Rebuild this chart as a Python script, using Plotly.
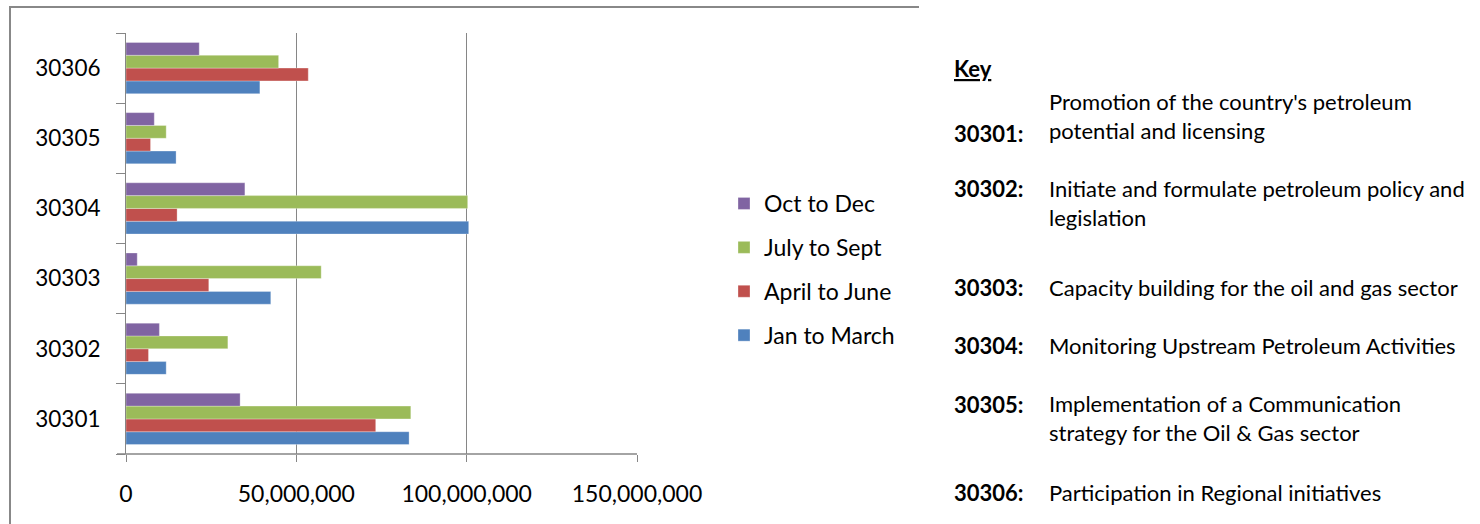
import plotly.graph_objects as go

categories = ["30301", "30302", "30303", "30304", "30305", "30306"]
series_names = ["Jan to March", "April to June", "July to Sept", "Oct to Dec"]
jan_to_march = [83.1e6, 11.8e6, 42.5e6, 100.6e6, 14.7e6, 39.3e6]
april_to_june = [73.3e6, 6.6e6, 24.3e6, 15.0e6, 7.2e6, 53.5e6]
july_to_sept = [83.6e6, 29.9e6, 57.3e6, 100.3e6, 11.8e6, 44.8e6]
oct_to_dec = [33.5e6, 9.8e6, 3.3e6, 34.9e6, 8.3e6, 21.5e6]
colors = ["#4F81BD", "#C0504D", "#9BBB59", "#8064A2"]
x_tickvals = [0, 50e6, 100e6, 150e6]
x_ticktext = ["0", "50,000,000", "100,000,000", "150,000,000"]

key_codes = ["30301:", "30302:", "30303:", "30304:", "30305:", "30306:"]
key_texts = [
    "Promotion of the country's petroleum<br>potential and licensing",
    "Initiate and formulate petroleum policy and<br>legislation",
    "Capacity building for the oil and gas sector",
    "Monitoring Upstream Petroleum Activities",
    "Implementation of a Communication<br>strategy for the Oil & Gas sector",
    "Participation in Regional initiatives",
]

FONT = "Lato"
W, H = 1480, 524
L, R, T, B = 126, 637, 33, 454

fig = go.Figure()
series_values = [jan_to_march, april_to_june, july_to_sept, oct_to_dec]
for i, (name, vals) in enumerate(zip(series_names, series_values)):
    fig.add_trace(go.Bar(
        y=categories, x=vals, name=name, orientation="h",
        marker=dict(color=colors[i], line=dict(color="rgba(255,255,255,0.6)", width=0.5)),
        legendgroup=name, legendrank=len(series_names) - i,
    ))

def px(x):
    return (x - L) / (R - L)

def py(y):
    return (B - y) / (B - T)

annotations = []
annotations.append(dict(xref="paper", yref="paper", x=px(952), y=py(68), xanchor="left", yanchor="middle",
                        text="<b><u>Key</u></b>", showarrow=False, font=dict(family=FONT, size=22, color="#000")))
code_y = [133, 188, 287, 345, 404, 492]
text_y = [116, 203, 287, 345, 418, 492]
for code, txt, cy, ty in zip(key_codes, key_texts, code_y, text_y):
    annotations.append(dict(xref="paper", yref="paper", x=px(952), y=py(cy), xanchor="left", yanchor="middle",
                            text=f"<b>{code}</b>", showarrow=False, font=dict(family=FONT, size=22, color="#000")))
    annotations.append(dict(xref="paper", yref="paper", x=px(1047), y=py(ty), xanchor="left", yanchor="middle",
                            align="left", text=txt, showarrow=False, font=dict(family=FONT, size=22, color="#000")))

shapes = [
    dict(type="line", xref="paper", yref="paper", x0=px(10), x1=px(10), y0=py(7), y1=py(540),
         line=dict(color="#888888", width=2)),
    dict(type="line", xref="paper", yref="paper", x0=px(9), x1=px(919), y0=py(7), y1=py(7),
         line=dict(color="#888888", width=2)),
    dict(type="line", xref="paper", yref="paper", x0=px(117), x1=1, y0=0, y1=0,
         line=dict(color="#868686", width=1.5)),
]

fig.update_layout(
    width=W, height=H,
    margin=dict(l=L, r=W - R, t=T, b=H - B, pad=0),
    paper_bgcolor="white", plot_bgcolor="white",
    barmode="group", bargap=0.27, bargroupgap=0,
    font=dict(family=FONT, size=22, color="#000"),
    showlegend=True,
    legend=dict(traceorder="grouped", x=px(724), y=py(182), xanchor="left", yanchor="top",
                font=dict(family=FONT, size=23, color="#000"), tracegroupgap=11,
                bgcolor="rgba(0,0,0,0)", itemwidth=30),
    annotations=annotations,
    shapes=shapes,
)
fig.update_xaxes(
    range=[0, 150e6], tickvals=x_tickvals, ticktext=x_ticktext,
    showgrid=True, gridcolor="#868686", gridwidth=1,
    showline=False, zeroline=False,
    ticks="outside", ticklen=7, tickcolor="#868686",
    tickfont=dict(family=FONT, size=23, color="#000"),
    ticklabelstandoff=12,
)
fig.update_yaxes(
    type="category", categoryorder="array", categoryarray=categories,
    showgrid=False, showline=True, linecolor="#868686", linewidth=1,
    ticks="outside", ticklen=9, tickcolor="#868686", tickson="boundaries",
    tickfont=dict(family=FONT, size=22.5, color="#000"),
    ticklabelstandoff=20,
    zeroline=False,
)

fig.write_html("out.html", config={"displayModeBar": False},
               post_script="document.body.style.margin='0';document.body.style.overflow='hidden';")
